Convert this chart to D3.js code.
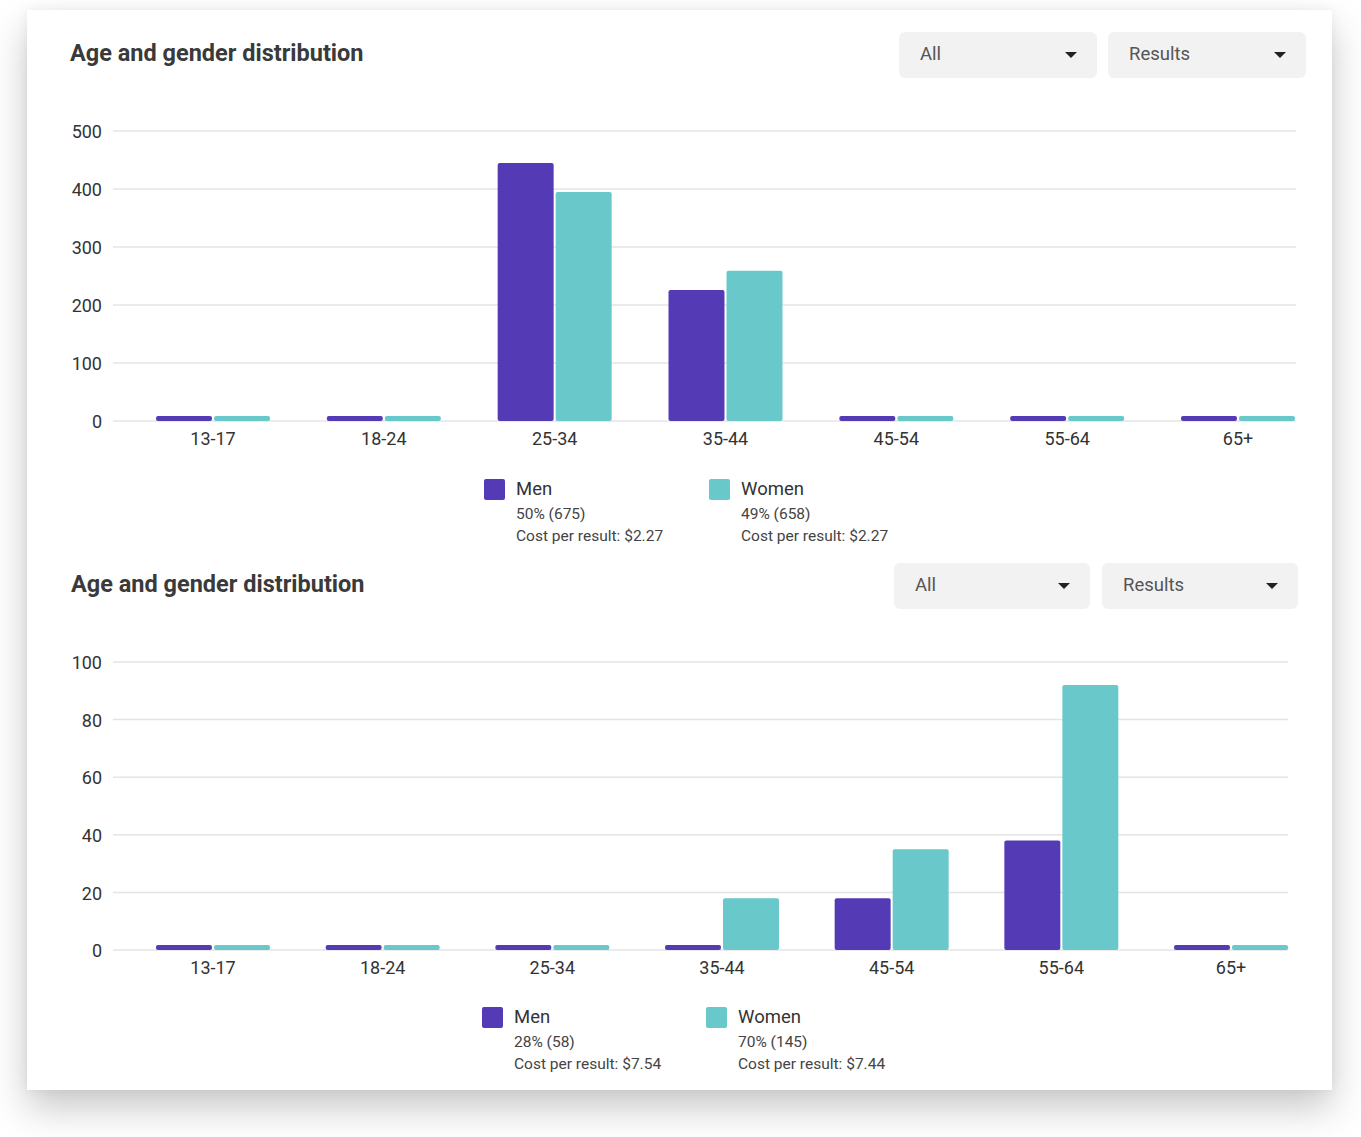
<!DOCTYPE html>
<html>
<head>
<meta charset="utf-8">
<script src="https://cdn.jsdelivr.net/npm/d3@7"></script>
<style>
  html, body { margin: 0; padding: 0; background: #ffffff; }
  body { width: 1361px; height: 1137px; position: relative; overflow: hidden; font-family: Roboto, "Noto Sans", Arial, sans-serif; }
  #card { position: absolute; left: 27px; top: 10px; width: 1305px; height: 1080px; background: #fff;
          box-shadow: 0 18px 36px rgba(0,0,0,0.22), 0 0 10px rgba(0,0,0,0.06); }
  svg { position: absolute; left: 0; top: 0; }
</style>
</head>
<body>
<div id="card"></div>
<svg id="chart" width="1361" height="1137"></svg>
<script>
// ---- Data ----
const categories = ["13-17", "18-24", "25-34", "35-44", "45-54", "55-64", "65+"];
const seriesNames = ["Men", "Women"];

// Chart 1
const chart1Men = [1, 1, 445, 226, 1, 1, 0];
const chart1Women = [1, 1, 395, 259, 1, 1, 0];
const chart1Ticks = [0, 100, 200, 300, 400, 500];
const chart1LegendMen = ["50% (675)", "Cost per result: $2.27"];
const chart1LegendWomen = ["49% (658)", "Cost per result: $2.27"];

// Chart 2
const chart2Men = [0, 0, 1, 1, 18, 38, 0];
const chart2Women = [0, 0, 0, 18, 35, 92, 0];
const chart2Ticks = [0, 20, 40, 60, 80, 100];
const chart2LegendMen = ["28% (58)", "Cost per result: $7.54"];
const chart2LegendWomen = ["70% (145)", "Cost per result: $7.44"];

const titleText = "Age and gender distribution";
const dropdownLabels = ["All", "Results"];

// ---- Styles ----
const colors = { Men: "#553ab6", Women: "#69c9ca" };
const svg = d3.select("#chart");

function drawChart(o) {
  const g = svg.append("g");
  // title
  g.append("text").attr("x", o.titleX).attr("y", o.titleY)
    .attr("font-size", 23.5).attr("font-weight", 700).attr("fill", "#3a3a3a")
    .attr("dominant-baseline", "middle").text(titleText);

  // dropdowns
  o.dropdowns.forEach((d, i) => {
    const dg = g.append("g").attr("transform", `translate(${d.x},${o.ddY})`);
    dg.append("rect").attr("width", d.w).attr("height", 46).attr("rx", 6).attr("fill", "#f2f2f2");
    dg.append("text").attr("x", 21).attr("y", 23.5).attr("dominant-baseline", "middle")
      .attr("font-size", 18.5).attr("fill", "#555").text(dropdownLabels[i]);
    const ax = d.w - 26, ay = 23;
    dg.append("path").attr("d", `M${ax-6},${ay-3} L${ax+6},${ay-3} L${ax},${ay+3} Z`).attr("fill", "#222");
  });

  const y = d3.scaleLinear().domain([0, o.ticks[o.ticks.length - 1]]).range([o.y0, o.yTop]);
  const x0 = d3.scaleBand().domain(categories).range(o.bandRange).paddingInner(0).paddingOuter(0);
  const x1 = d3.scaleBand().domain(seriesNames).range([0, 114]).paddingInner(0.035);

  // gridlines
  g.append("g").selectAll("line").data(o.ticks).join("line")
    .attr("x1", o.gridX[0]).attr("x2", o.gridX[1])
    .attr("y1", d => y(d)).attr("y2", d => y(d))
    .attr("stroke", "#e4e4e4").attr("stroke-width", 1.5);

  // y axis labels
  const yAxis = d3.axisLeft(y).tickValues(o.ticks).tickSize(0).tickPadding(0);
  const ya = g.append("g").attr("transform", `translate(102,1)`).call(yAxis);
  ya.select(".domain").remove();
  ya.selectAll("text").attr("font-size", 18).attr("fill", "#333").attr("font-family", "Roboto, sans-serif");

  // x axis labels
  const xAxis = d3.axisBottom(x0).tickSize(0).tickPadding(0);
  const xa = g.append("g").attr("transform", `translate(0,${o.y0 + 11})`).call(xAxis);
  xa.select(".domain").remove();
  xa.selectAll("text").attr("font-size", 18).attr("fill", "#333").attr("font-family", "Roboto, sans-serif");

  // bars
  const rows = categories.map((c, i) => ({ c, Men: o.men[i], Women: o.women[i] }));
  const minH = 5;
  g.append("g").selectAll("g").data(rows).join("g")
    .attr("transform", d => `translate(${x0(d.c) + x0.bandwidth() / 2 - 57},0)`)
    .selectAll("rect").data(d => seriesNames.map(s => ({ s, v: d[s] }))).join("rect")
    .attr("x", d => x1(d.s)).attr("width", x1.bandwidth())
    .attr("y", d => Math.min(y(d.v), o.y0 - minH))
    .attr("height", d => Math.max(o.y0 - y(d.v), minH))
    .attr("rx", 2).attr("fill", d => colors[d.s]);

  // legend
  const legends = [
    { s: "Men", x: o.legX[0], lines: o.legMen },
    { s: "Women", x: o.legX[1], lines: o.legWomen }
  ];
  legends.forEach(l => {
    const lg = g.append("g").attr("transform", `translate(${l.x},${o.legY})`);
    lg.append("rect").attr("x", 0).attr("y", -10).attr("width", 21).attr("height", 21).attr("rx", 2).attr("fill", colors[l.s]);
    lg.append("text").attr("x", 32).attr("y", 1.5).attr("dominant-baseline", "middle")
      .attr("font-size", 18.5).attr("fill", "#333").text(l.s);
    lg.append("text").attr("x", 32).attr("y", 25.5).attr("dominant-baseline", "middle")
      .attr("font-size", 15.5).attr("fill", "#444").text(l.lines[0]);
    lg.append("text").attr("x", 32).attr("y", 47.5).attr("dominant-baseline", "middle")
      .attr("font-size", 15.5).attr("fill", "#444").text(l.lines[1]);
  });
}

drawChart({
  titleX: 70, titleY: 55,
  ddY: 32, dropdowns: [{ x: 899, w: 198 }, { x: 1108, w: 198 }],
  men: chart1Men, women: chart1Women, ticks: chart1Ticks,
  yTop: 131, y0: 421, bandRange: [127.6, 1323.4], gridX: [113, 1296],
  legX: [484, 709], legY: 489, legMen: chart1LegendMen, legWomen: chart1LegendWomen
});

drawChart({
  titleX: 71, titleY: 586,
  ddY: 563, dropdowns: [{ x: 894, w: 196 }, { x: 1102, w: 196 }],
  men: chart2Men, women: chart2Women, ticks: chart2Ticks,
  yTop: 662, y0: 950, bandRange: [128.15, 1315.85], gridX: [113, 1288],
  legX: [482, 706], legY: 1017, legMen: chart2LegendMen, legWomen: chart2LegendWomen
});
</script>
</body>
</html>
